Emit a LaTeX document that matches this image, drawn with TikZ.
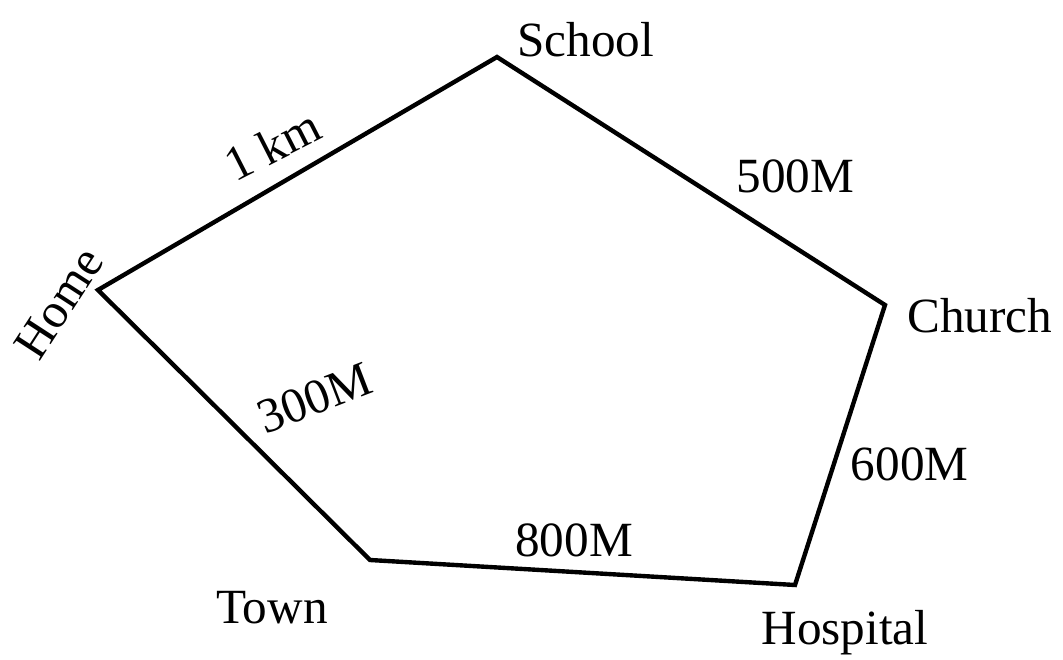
\documentclass[tikz,border=0pt]{standalone}
\usepackage{fontspec}
\setmainfont{Liberation Serif}
\usepackage{tikz}
\usetikzlibrary{positioning}

\begin{document}
\begin{tikzpicture}[node distance={10mm}, road/.style = {draw, line width=2.5pt}, place/.style = {inner sep=0pt, font=\fontsize{28}{30}\selectfont}, dist/.style = {inner sep=0pt, font=\fontsize{28}{30}\selectfont}]
            \useasboundingbox (0,0) rectangle (21.26,13.18);
            \coordinate (home) at (1.96,7.38);
            \coordinate (school) at (9.94,12.04);
            \coordinate (church) at (17.70,7.08);
            \coordinate (hospital) at (15.90,1.48);
            \coordinate (town) at (7.40,1.98);

            \node[place, xshift=-0.78cm, yshift=-0.26cm, rotate=57] (homelbl) at (home) {Home};
            \node[place] (schoollbl) [above right=0cm and 0.4cm of school] {School};
            \node[place, yshift=-0.22cm] (churchlbl) [right=0.44cm of church] {Church};
            \node[place, xshift=1cm] (hospitallbl) [below=0.51cm of hospital] {Hospital};
            \node[place, xshift=-1.96cm] (townlbl) [below=0.61cm of town] {Town};

            \draw[road] (home) -- node[dist, midway, xshift=-0.51cm, yshift=0.57cm, rotate=27] {1 km} (school)
                -- node[dist, pos=0.48, right=1.02cm] {500M} (church)
                -- node[dist, pos=0.57, right=0.3cm] {600M} (hospital)
                -- node[dist, pos=0.52, above=0.25cm] {800M} (town)
                -- node[dist, midway, xshift=1.62cm, yshift=0.54cm, rotate=21] {300M} cycle;
        \end{tikzpicture}
\end{document}
